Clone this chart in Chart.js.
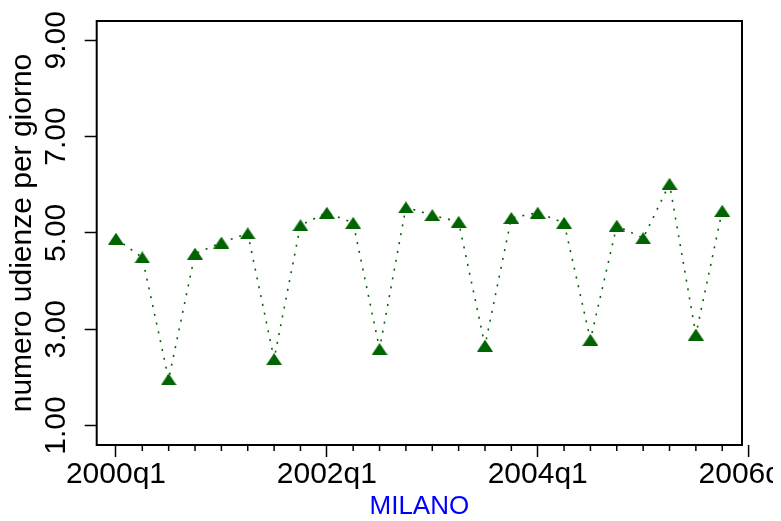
<!DOCTYPE html>
<html>
<head>
<meta charset="utf-8">
<script src="https://cdn.jsdelivr.net/npm/chart.js@4/dist/chart.umd.min.js"></script>
<style>
html,body{margin:0;padding:0;background:#ffffff;}
canvas{display:block;}
</style>
</head>
<body>
<canvas id="c" width="781" height="521"></canvas>
<script>
// ---- data ----
const quarters = ['2000q1','2000q2','2000q3','2000q4','2001q1','2001q2','2001q3','2001q4',
                  '2002q1','2002q2','2002q3','2002q4','2003q1','2003q2','2003q3','2003q4',
                  '2004q1','2004q2','2004q3','2004q4','2005q1','2005q2','2005q3','2005q4'];
const values = [4.88, 4.49, 1.96, 4.57, 4.80, 4.99, 2.38, 5.16,
                5.42, 5.21, 2.59, 5.53, 5.37, 5.23, 2.66, 5.31,
                5.42, 5.21, 2.78, 5.15, 4.89, 6.02, 2.89, 5.46];
const xTickLabels = ['2000q1','2002q1','2004q1','2006q1'];
const yTickValues = [1, 3, 5, 7, 9];
const yTitle = 'numero udienze per giorno';
const xTitle = 'MILANO';

// ---- helpers ----
const baseYear = parseInt(quarters[0].split('q')[0], 10);
function qIndex(label){
  const p = label.split('q');
  return (parseInt(p[0],10) - baseYear) * 4 + parseInt(p[1],10) - 1;
}
const majorIdx = xTickLabels.map(qIndex);
const points = quarters.map((q,i) => ({x: qIndex(q), y: values[i]}));

const GREEN = '#006400';
const FONT = '"Liberation Sans", Arial, Helvetica, sans-serif';
Chart.defaults.font.family = FONT;

// triangle marker
const tri = document.createElement('canvas');
tri.width = 16; tri.height = 12;
(function(){
  const t = tri.getContext('2d');
  t.fillStyle = GREEN;
  t.beginPath(); t.moveTo(8,0); t.lineTo(16,12); t.lineTo(0,12); t.closePath(); t.fill();
})();

const framePlugin = {
  id: 'frame',
  afterDraw(chart){
    const {ctx, chartArea:a, scales:{x}} = chart;
    ctx.save();
    ctx.strokeStyle = '#000';
    ctx.lineWidth = 1.5;
    // minor ticks
    x.ticks.forEach(t => {
      if (!t.major) {
        const px = x.getPixelForValue(t.value);
        ctx.beginPath(); ctx.moveTo(px, a.bottom); ctx.lineTo(px, a.bottom + 6); ctx.stroke();
      }
    });
    // major ticks beyond the plot range (graph region ends a little before the canvas edge)
    ctx.beginPath(); ctx.rect(0, 0, 773, chart.height); ctx.clip();
    majorIdx.forEach((qi,k) => {
      if (qi > x.max) {
        const px = x.getPixelForValue(qi);
        ctx.beginPath(); ctx.moveTo(px, a.bottom); ctx.lineTo(px, a.bottom + 12); ctx.stroke();
        ctx.fillStyle = '#000';
        ctx.font = '30px ' + FONT;
        ctx.textAlign = 'center';
        ctx.textBaseline = 'middle';
        ctx.fillText(xTickLabels[k], px, a.bottom + 12 + 0 + 18);
      }
    });
    // frame
    ctx.lineWidth = 2;
    ctx.strokeRect(a.left, a.top, a.right - a.left, a.bottom - a.top);
    ctx.restore();
  }
};

new Chart(document.getElementById('c'), {
  type: 'line',
  data: {
    datasets: [{
      data: points,
      borderColor: GREEN,
      backgroundColor: GREEN,
      borderWidth: 1.6,
      borderDash: [2, 7],
      pointStyle: tri,
      pointRadius: 8,
      pointHoverRadius: 8,
      tension: 0,
      fill: false,
      clip: false
    }]
  },
  options: {
    responsive: false,
    animation: false,
    devicePixelRatio: 1,
    events: [],
    plugins: { legend: {display:false}, tooltip: {enabled:false} },
    layout: { padding: { top: 21, right: 39, left: 0, bottom: 0 } },
    scales: {
      x: {
        type: 'linear',
        min: -0.73,
        max: 23.75,
        afterBuildTicks: s => {
          s.ticks = quarters.map((q,i) => ({value: qIndex(q), major: majorIdx.includes(qIndex(q))}));
        },
        afterFit: s => { s.height = 76; s.paddingLeft = 0; s.paddingRight = 0; },
        ticks: {
          autoSkip: false, minRotation: 0, maxRotation: 0, padding: 0,
          color: '#000', font: { size: 30 },
          callback: (v) => { const k = majorIdx.indexOf(v); return k >= 0 ? xTickLabels[k] : ''; }
        },
        grid: {
          drawOnChartArea: false, tickLength: 12, tickWidth: 1.5,
          tickColor: c => (c.tick && c.tick.major) ? '#000' : 'rgba(0,0,0,0)'
        },
        border: { display: false },
        title: { display: true, text: xTitle, color: '#0000ff', font: { size: 26, lineHeight: 1 }, padding: { top: 0, bottom: 1 } }
      },
      y: {
        type: 'linear',
        min: 0.597,
        max: 9.40,
        afterBuildTicks: s => { s.ticks = yTickValues.map(v => ({value: v})); },
        afterFit: s => { s.width = 96.7; s.paddingTop = 0; s.paddingBottom = 0; },
        ticks: {
          minRotation: 90, maxRotation: 90, crossAlign: 'center', padding: -1,
          color: '#000', font: { size: 30 },
          callback: v => Number(v).toFixed(2)
        },
        grid: { drawOnChartArea: false, tickLength: 12, tickWidth: 1.5, tickColor: '#000' },
        border: { display: false },
        title: { display: true, text: yTitle, color: '#000', font: { size: 30 }, padding: { top: 5, bottom: 0 } }
      }
    }
  },
  plugins: [framePlugin]
});
</script>
</body>
</html>
